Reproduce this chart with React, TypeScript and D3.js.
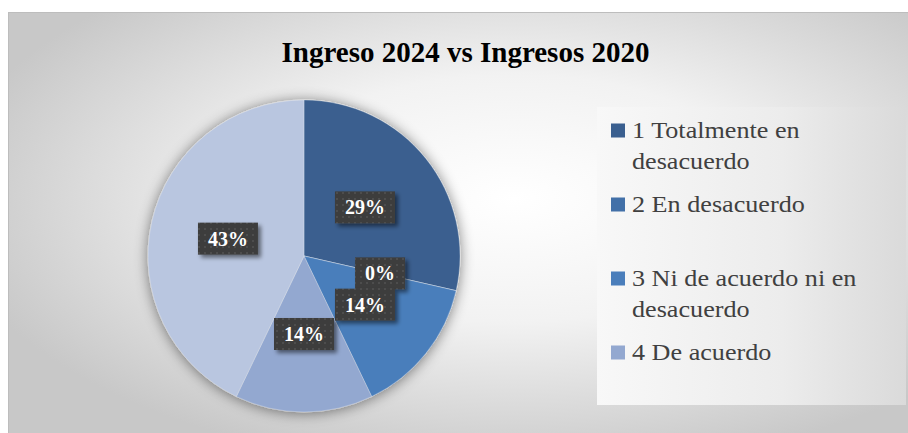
import React from "react";
import * as d3 from "d3";

const title = "Ingreso 2024 vs Ingresos 2020";
const categories = [
  "1 Totalmente en desacuerdo",
  "2 En desacuerdo",
  "3 Ni de acuerdo ni en desacuerdo",
  "4 De acuerdo",
  "5 Totalmente de acuerdo",
];
const legendLines = [
  ["1 Totalmente en", "desacuerdo"],
  ["2 En desacuerdo"],
  ["3 Ni de acuerdo ni en", "desacuerdo"],
  ["4 De acuerdo"],
];
const counts = [2, 0, 1, 1, 3];
const labels = ["29%", "0%", "14%", "14%", "43%"];
const colors = ["#3A5F8F", "#4270A8", "#4A7EBB", "#93A8D0", "#B9C6E0"];

const W = 908;
const H = 433;
const cx = 304;
const cy = 256;
const R = 156;
const serif = "Liberation Serif";

export default function App() {
  const pie = d3
    .pie<number>()
    .sort(null)
    .value((d) => d)
    .startAngle(0)
    .endAngle(2 * Math.PI);
  const arcs = pie(counts);
  const arc = d3.arc<d3.PieArcDatum<number>>().innerRadius(0).outerRadius(R);
  const labelArc = d3
    .arc<d3.PieArcDatum<number>>()
    .innerRadius(R * 0.5)
    .outerRadius(R * 0.5);

  return (
    <svg
      width={W}
      height={H}
      style={{ position: "absolute", left: 0, top: 0 }}
      xmlns="http://www.w3.org/2000/svg"
    >
      <defs>
        <radialGradient id="bg" cx="55%" cy="42%" r="62%">
          <stop offset="0%" stopColor="#ffffff" />
          <stop offset="45%" stopColor="#f2f2f2" />
          <stop offset="100%" stopColor="#c8c8c8" />
        </radialGradient>
        <linearGradient id="legbg" x1="0" x2="1" y1="0" y2="0">
          <stop offset="0%" stopColor="#f8f8f8" />
          <stop offset="60%" stopColor="#ececec" />
          <stop offset="100%" stopColor="#dadada" />
        </linearGradient>
        <pattern id="dots" width="6" height="6" patternUnits="userSpaceOnUse">
          <rect width="6" height="6" fill="#3e3e3e" />
          <circle cx="3" cy="3" r="0.9" fill="#555555" />
        </pattern>
        <filter id="pieShadow" x="-20%" y="-20%" width="140%" height="140%">
          <feGaussianBlur in="SourceAlpha" stdDeviation="7" />
          <feOffset dx="0" dy="1" result="b" />
          <feComponentTransfer>
            <feFuncA type="linear" slope="0.5" />
          </feComponentTransfer>
          <feMerge>
            <feMergeNode />
            <feMergeNode in="SourceGraphic" />
          </feMerge>
        </filter>
        <filter id="boxShadow" x="-30%" y="-30%" width="160%" height="160%">
          <feGaussianBlur in="SourceAlpha" stdDeviation="2" />
          <feOffset dx="3" dy="3" />
          <feComponentTransfer>
            <feFuncA type="linear" slope="0.5" />
          </feComponentTransfer>
          <feMerge>
            <feMergeNode />
            <feMergeNode in="SourceGraphic" />
          </feMerge>
        </filter>
      </defs>

      <rect x={0} y={0} width={W} height={H} fill="#ffffff" />
      <rect
        x={8.5}
        y={12.5}
        width={W + 10}
        height={H + 10}
        fill="url(#bg)"
        stroke="#bdbdbd"
        strokeWidth={1}
      />

      <text
        x={465.5}
        y={62}
        textAnchor="middle"
        fontFamily={serif}
        fontWeight="bold"
        fontSize={29}
        fill="#000000"
      >
        {title}
      </text>

      <g transform={`translate(${cx},${cy})`}>
        <g filter="url(#pieShadow)">
          {arcs.map((a, i) => (
            <path
              key={i}
              d={arc(a) || ""}
              fill={colors[i]}
              stroke="#ffffff"
              strokeOpacity={0.35}
              strokeWidth={0.75}
            />
          ))}
        </g>
      </g>

      <g transform={`translate(${cx},${cy})`}>
        {arcs.map((a, i) => {
          const [lx, ly] = labelArc.centroid(a);
          const txt = labels[i];
          const tw = txt.length === 2 ? 30 : 40;
          const bw = tw + 20;
          const bh = 32;
          return (
            <g key={i}>
              <rect
                x={lx - bw / 2}
                y={ly - bh / 2}
                width={bw}
                height={bh}
                fill="url(#dots)"
                filter="url(#boxShadow)"
              />
              <text
                x={lx}
                y={ly + 7}
                textAnchor="middle"
                fontFamily={serif}
                fontWeight="bold"
                fontSize={20}
                fill="#ffffff"
              >
                {txt}
              </text>
            </g>
          );
        })}
      </g>

      <rect x={597} y={107} width={309} height={298} fill="url(#legbg)" />
      {legendLines.map((lines, i) => {
        const base = 138 + i * 74;
        return (
          <g key={categories[i]}>
            <rect x={611} y={base - 14.5} width={14} height={14} fill={colors[i]} />
            {lines.map((ln, j) => (
              <text
                key={j}
                transform={`translate(632,${base + j * 31}) scale(1.09,1)`}
                fontFamily={serif}
                fontSize={24}
                fill="#404040"
              >
                {ln}
              </text>
            ))}
          </g>
        );
      })}
    </svg>
  );
}
